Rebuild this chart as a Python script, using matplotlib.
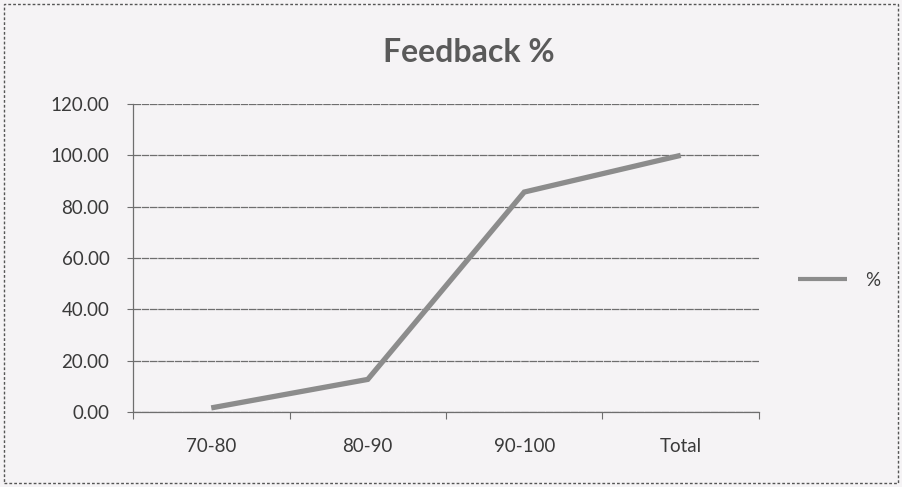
import matplotlib
matplotlib.use("Agg")
import matplotlib.pyplot as plt
from matplotlib.patches import Rectangle

# data
categories = ["70-80", "80-90", "90-100", "Total"]
feedback_pct = [1.6, 12.7, 85.7, 100.0]
y_ticks = [0, 20, 40, 60, 80, 100, 120]

BG = "#f5f3f5"
LINE = "#8c8c8c"
GRID = "#6e6e6e"
TEXT = "#3a3a3a"

plt.rcParams["font.family"] = ["Lato", "DejaVu Sans"]

fig = plt.figure(figsize=(9.03, 4.87), dpi=100, facecolor=BG)
ax = fig.add_axes([0.1473, 0.154, 0.6932, 0.6324], facecolor=BG)

x = list(range(len(categories)))
ax.plot(x, feedback_pct, color=LINE, lw=3.8, solid_capstyle="butt",
        solid_joinstyle="miter", label="%", zorder=3)

ax.set_xlim(-0.5, len(categories) - 0.5)
ax.set_ylim(0, 120)
ax.set_yticks(y_ticks)
ax.set_yticklabels([f"{v:.2f}" for v in y_ticks], fontsize=13.5, color=TEXT)
ax.set_xticks(x)
ax.set_xticklabels(categories, fontsize=13.5, color=TEXT)
ax.tick_params(axis="x", length=0, pad=19)
ax.set_xticks([i - 0.5 for i in range(len(categories) + 1)], minor=True)
ax.tick_params(axis="x", which="minor", length=5, color=GRID, width=0.8)
ax.tick_params(axis="y", length=4, color=GRID, width=0.8, pad=13)

ax.grid(axis="y", color=GRID, lw=0.9, ls=(0, (6, 0.6)))
ax.set_axisbelow(True)
for side in ["top", "right"]:
    ax.spines[side].set_visible(False)
ax.spines["left"].set_color(GRID)
ax.spines["bottom"].set_color(GRID)
ax.spines["left"].set_linewidth(0.9)
ax.spines["bottom"].set_linewidth(0.9)

fig.text(0.519, 0.893, "Feedback %", ha="center", va="center",
         fontsize=23, fontweight="bold", color="#5a5a5a")

leg = fig.legend(loc="center left", bbox_to_anchor=(0.865, 0.424), frameon=False,
                 fontsize=13.5, handlelength=2.6, handletextpad=1.0)
leg.get_lines()[0].set_linewidth(3)
for t in leg.get_texts():
    t.set_color(TEXT)

fig.patches.append(Rectangle((0.004, 0.008), 0.99, 0.984, transform=fig.transFigure,
                             fill=False, ec="#555555", lw=1.0, ls=(0, (2, 1.5))))

fig.savefig("out.png", dpi=100, facecolor=BG)
